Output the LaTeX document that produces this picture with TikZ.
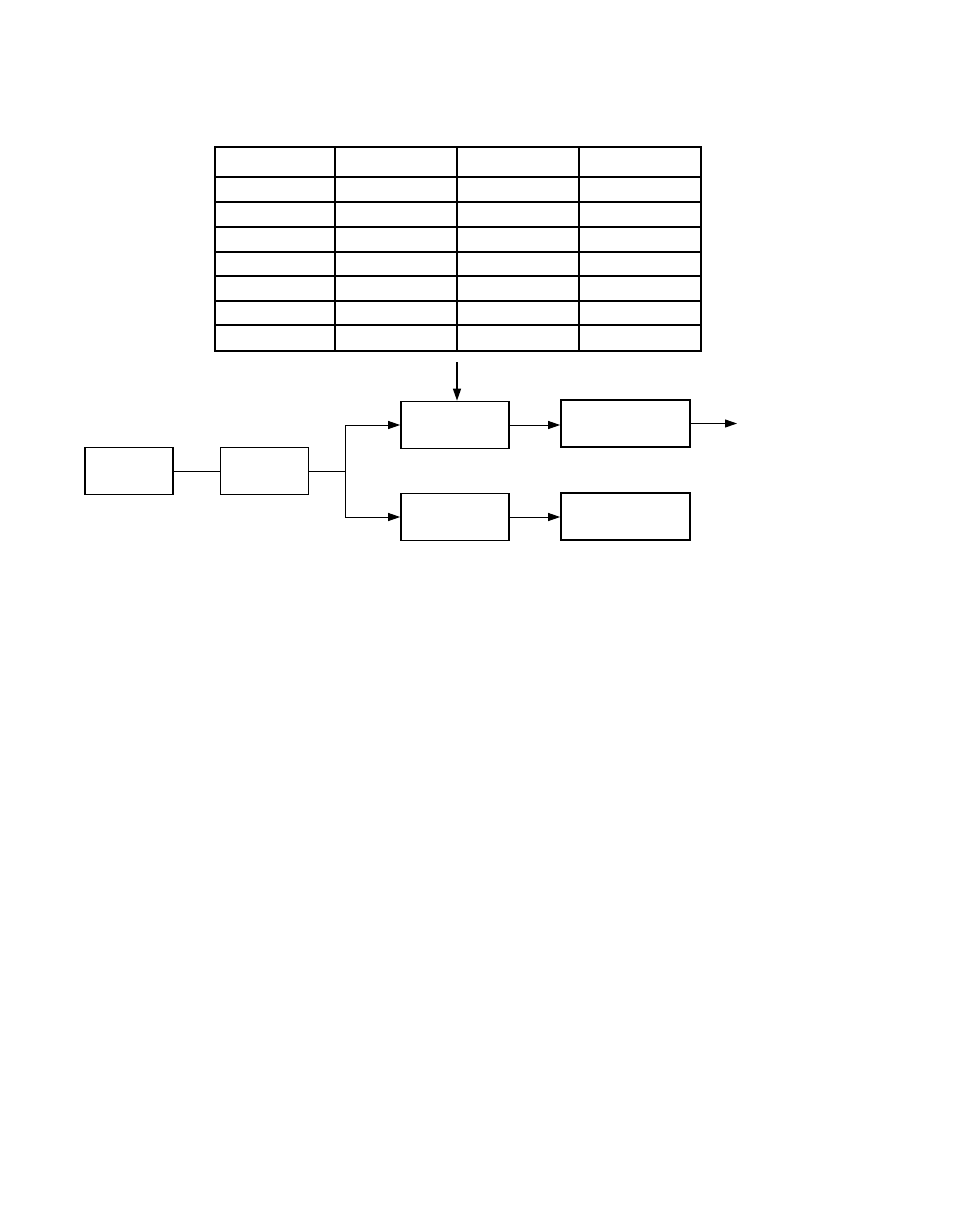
\documentclass[tikz,border=0pt]{standalone}
\usetikzlibrary{arrows.meta}
\begin{document}
\begin{tikzpicture}[x=1pt,y=-1pt,
  blk/.style={draw,line width=1.7pt,minimum width=0pt,inner sep=0pt},
  conn/.style={line width=1pt},
  arr/.style={conn,-{Triangle[length=12pt,width=8pt]}},
  grid line/.style={line width=1.2pt}]
\useasboundingbox (0,0) rectangle (954,1227);
% table
\node[draw,line width=2pt,inner sep=0pt,minimum width=486pt,minimum height=204pt,anchor=north west] (tab) at (214,146) {};
\foreach \x in {335,457,579} \draw[grid line] (\x,146) -- (\x,350);
\foreach \y in {177,202,227,252,276,301,325} \draw[grid line] (214,\y) -- (700,\y);
% boxes
\node[blk,minimum width=88pt,minimum height=47pt] (A) at (129,471) {};
\node[blk,minimum width=88pt,minimum height=47pt] (B) at (264.5,471) {};
\node[blk,minimum width=108pt,minimum height=47pt] (C) at (455,425) {};
\node[blk,minimum width=108pt,minimum height=47pt] (D) at (455,517) {};
\node[blk,minimum width=129pt,minimum height=47pt] (E) at (625.5,423.5) {};
\node[blk,minimum width=129pt,minimum height=47pt] (F) at (625.5,516.5) {};
\coordinate (J) at (345,471);
\coordinate (T) at (457,362);
\coordinate (O) at (737,424);
% connectors
\draw[conn] (A.east) -- (B.east -| B.west);
\draw[conn] (B.east) -- (J);
\draw[arr] (J) |- (C.west);
\draw[arr] (J) |- (D.west);
\draw[arr] (C.east) -- (C.east -| E.west);
\draw[arr] (D.east) -- (D.east -| F.west);
\draw[arr] (E.east) -- (O |- E.east);
\draw[arr,line width=1.3pt] (T) -- (T |- C.north);
\end{tikzpicture}
\end{document}
